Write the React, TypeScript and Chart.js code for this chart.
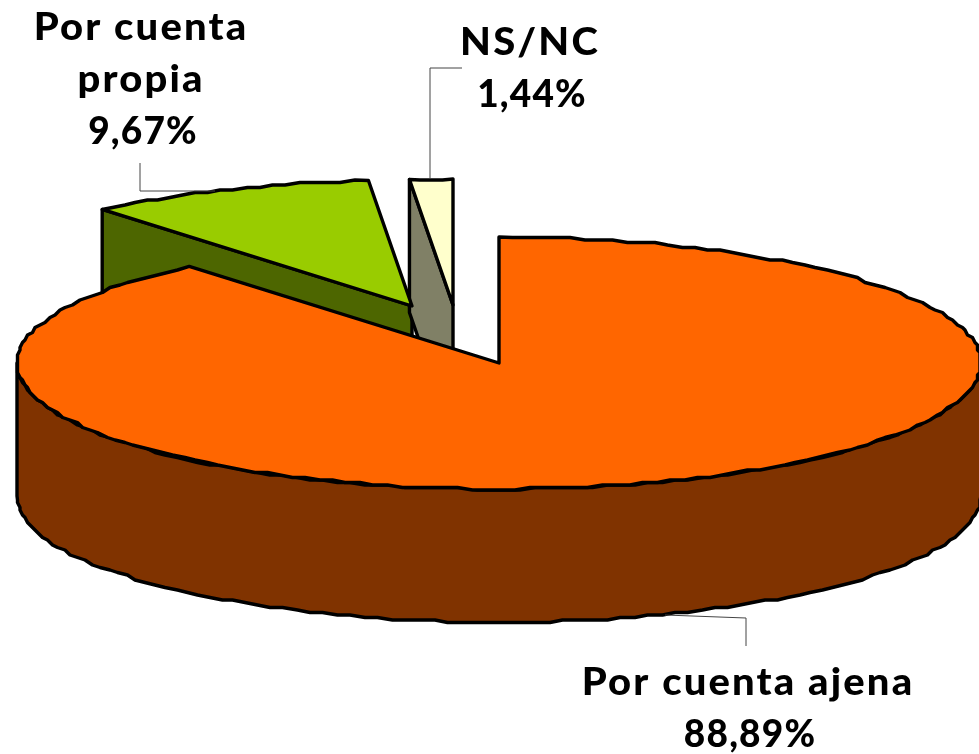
import React, { useEffect, useRef } from "react";
import { Chart, registerables } from "chart.js";

Chart.register(...registerables);

// data
const categories = ["Por cuenta ajena", "Por cuenta propia", "NS/NC"];
const values = [88.89, 9.67, 1.44];
const labelLines = [["Por cuenta ajena"], ["Por cuenta", "propia"], ["NS/NC"]];

// styles
const topColors = ["#FF6600", "#99CC00", "#FFFFCC"];
const sideColors = ["#803300", "#4D6600", "#808066"];

// layout of the 3D projection
const W = 979;
const H = 754;
const CX = 499;
const CY = 363;
const RX = 482;
const RY = 126;
const DEPTH = 133;
const GRID = 2.5;
const explode = [
  [0, 0],
  [-87, -57],
  [-46, -58],
];
const labelCenters = [748, 141, 530];
const labelBaselines = [695, 40, 55];
const LINE_H = 52;
const NAME_STRETCH = 1.08;
const leaders = [
  [[665, 615], [746, 618], [746, 646]],
  [[140, 163], [140, 191], [215, 191]],
  [[462, 68], [430, 68], [430, 178]],
];

const fmt = (v: number) => v.toFixed(2).replace(".", ",") + "%";

const pie3d = {
  id: "pie3d",
  beforeDatasetDraw(chart: any) {
    const ctx: CanvasRenderingContext2D = chart.ctx;
    const arcs = chart.getDatasetMeta(0).data;
    ctx.save();
    ctx.lineWidth = 3.4;
    ctx.lineJoin = "round";
    ctx.strokeStyle = "#000";

    const pos = (i: number) => ({ x: CX + explode[i][0], y: CY + explode[i][1] });

    // outline traced on a coarse grid, the stepped edge of the original rendering
    const rimTo = (x: number, y: number, from: number, to: number) => {
      const n = Math.max(2, Math.ceil(Math.abs(to - from) / 0.03));
      for (let k = 0; k <= n; k++) {
        const a = from + ((to - from) * k) / n;
        const px = x + RX * Math.cos(a);
        const py = y + RY * Math.sin(a);
        const end = k === 0 || k === n;
        ctx.lineTo(end ? px : Math.round(px / GRID) * GRID, end ? py : Math.round(py / GRID) * GRID);
      }
    };

    const face = (i: number) => {
      const { x, y } = pos(i);
      const a = arcs[i].startAngle;
      const ox = x + RX * Math.cos(a);
      const oy = y + RY * Math.sin(a);
      ctx.beginPath();
      ctx.moveTo(ox, oy);
      ctx.lineTo(x, y);
      ctx.lineTo(x, y + DEPTH);
      ctx.lineTo(ox, oy + DEPTH);
      ctx.closePath();
      ctx.fillStyle = sideColors[i];
      ctx.fill();
      ctx.stroke();
    };

    const top = (i: number) => {
      const { x, y } = pos(i);
      ctx.beginPath();
      ctx.moveTo(x, y);
      rimTo(x, y, arcs[i].startAngle, arcs[i].endAngle);
      ctx.closePath();
      ctx.fillStyle = topColors[i];
      ctx.fill();
      ctx.stroke();
    };

    const wall = (i: number) => {
      const { x, y } = pos(i);
      ctx.beginPath();
      rimTo(x, y, Math.PI, 0);
      rimTo(x, y + DEPTH, 0, Math.PI);
      ctx.closePath();
      ctx.fillStyle = sideColors[i];
      ctx.fill();
      ctx.stroke();
    };

    face(1);
    face(2);
    top(1);
    top(2);
    wall(0);
    top(0);

    // leader lines
    ctx.lineWidth = 1;
    ctx.strokeStyle = "#444";
    leaders.forEach((pts) => {
      ctx.beginPath();
      pts.forEach((p, k) => (k ? ctx.lineTo(p[0], p[1]) : ctx.moveTo(p[0], p[1])));
      ctx.stroke();
    });

    // labels
    ctx.fillStyle = "#000";
    ctx.textAlign = "center";
    ctx.textBaseline = "alphabetic";
    ctx.font = "900 37px Lato";
    categories.forEach((_, i) => {
      labelLines[i].forEach((t, k) => {
        ctx.save();
        (ctx as any).letterSpacing = "2px";
        ctx.translate(labelCenters[i], labelBaselines[i] + k * LINE_H);
        ctx.scale(NAME_STRETCH, 1);
        ctx.fillText(t, 0, 0);
        ctx.restore();
      });
      (ctx as any).letterSpacing = "1.2px";
      ctx.fillText(fmt(values[i]), labelCenters[i] + 2, labelBaselines[i] + labelLines[i].length * LINE_H);
    });
    ctx.restore();
    return false;
  },
};

export default function App() {
  const ref = useRef<HTMLCanvasElement>(null);
  useEffect(() => {
    const chart = new Chart(ref.current!, {
      type: "pie",
      data: {
        labels: categories,
        datasets: [{ data: values, backgroundColor: topColors, borderWidth: 0 }],
      },
      options: {
        animation: false,
        responsive: false,
        events: [],
        plugins: { legend: { display: false }, tooltip: { enabled: false } },
      },
      plugins: [pie3d],
    } as any);
    return () => chart.destroy();
  }, []);
  return (
    <canvas
      ref={ref}
      width={W}
      height={H}
      style={{ position: "fixed", left: 0, top: 0, width: W, height: H, background: "#fff" }}
    />
  );
}
